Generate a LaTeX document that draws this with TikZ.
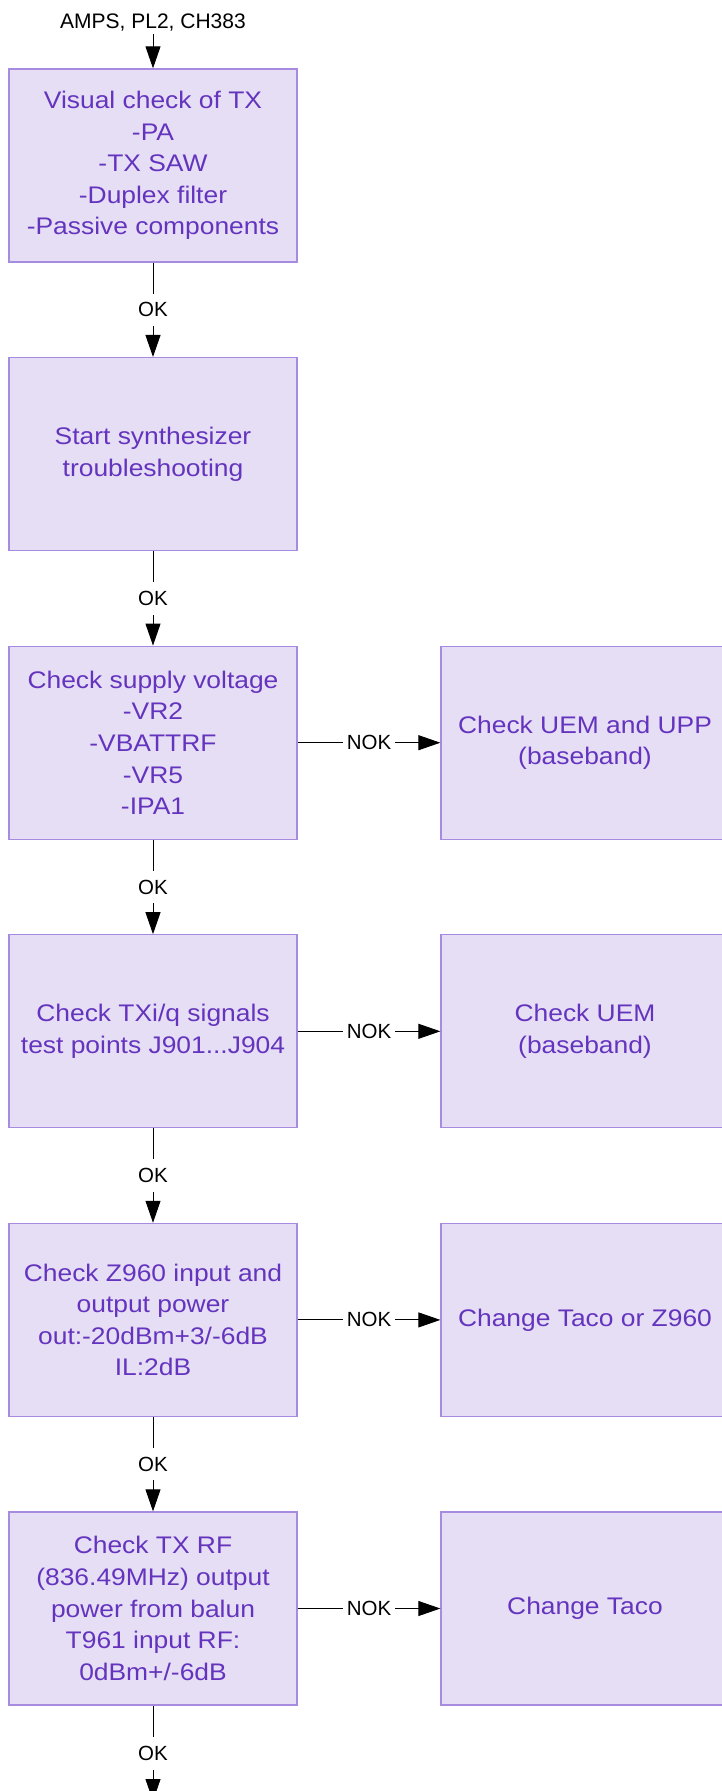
\documentclass[tikz,border=0pt]{standalone}
\usepackage{fontspec}
\setmainfont{Liberation Sans}
\newfontfamily\boxfont{Liberation Sans}[FakeStretch=1.1]
\usepackage{xcolor}
\usetikzlibrary{arrows.meta}
\definecolor{boxfill}{RGB}{230,222,245}
\definecolor{boxline}{RGB}{167,139,224}
\definecolor{boxtext}{RGB}{100,52,190}

\begin{document}
\begin{tikzpicture}[x=1pt, y=-1pt,
    stepbox/.style={draw=boxline, line width=1.3pt, fill=boxfill, text=boxtext,
        minimum width=288pt, minimum height=193pt, inner sep=0pt, align=center,
        font=\boxfont\fontsize{24}{31.6}\selectfont},
    flow/.style={-{Triangle[length=22pt,width=15pt]}, line width=0.9pt},
    lbl/.style={fill=white, inner xsep=4pt, inner ysep=9pt,
        font=\fontsize{20.5}{24}\selectfont}]
    \useasboundingbox (0,0) rectangle (722,1791);
    % left column
    \node[anchor=base, inner sep=3.5pt, font=\fontsize{21}{24}\selectfont] (start) at (153,28) {AMPS, PL2, CH383};
    \node[stepbox] (visual) at (153,165.5) {Visual check of TX\\-PA\\-TX SAW\\-Duplex filter\\-Passive components};
    \node[stepbox] (synth) at (153,454.1) {Start synthesizer\\troubleshooting};
    \node[stepbox] (supply) at (153,742.7) {Check supply voltage\\-VR2\\-VBATTRF\\-VR5\\-IPA1};
    \node[stepbox] (txiq) at (153,1031.3) {Check TXi/q signals\\test points J901...J904};
    \node[stepbox] (zpower) at (153,1319.9) {Check Z960 input and\\output power\\out:-20dBm+3/-6dB\\IL:2dB};
    \node[stepbox] (rfout) at (153,1608.5) {Check TX RF\\(836.49MHz) output\\power from balun\\T961 input RF:\\0dBm+/-6dB};
    \coordinate (next) at (153,1801);
    % right column
    \node[stepbox] (uemupp) at (585,742.7) {Check UEM and UPP\\(baseband)};
    \node[stepbox] (uem) at (585,1031.3) {Check UEM\\(baseband)};
    \node[stepbox] (tacoz) at (585,1319.9) {Change Taco or Z960};
    \node[stepbox] (taco) at (585,1608.5) {Change Taco};
    % connectors
    \draw[flow] (start) -- (visual);
    \foreach \a/\b in {visual/synth, synth/supply, supply/txiq, txiq/zpower, zpower/rfout, rfout/next}
        \draw[flow] (\a) -- node[lbl] {OK} (\b);
    \foreach \a/\b in {supply/uemupp, txiq/uem, zpower/tacoz, rfout/taco}
        \draw[flow] (\a) -- node[lbl] {NOK} (\b);
\end{tikzpicture}
\end{document}
